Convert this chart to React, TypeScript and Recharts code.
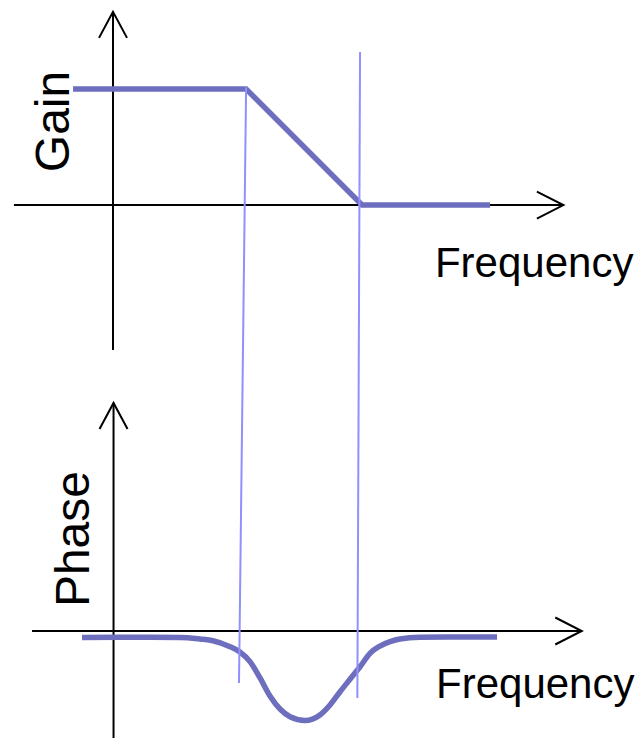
import React from 'react';
import { ComposedChart, Line, XAxis, YAxis, ReferenceLine, ReferenceDot } from 'recharts';

// Frequency axis in decade-like units (0 = origin, corner ≈ 1)
const gainFreq = [-0.298, 0.993, 1.858, 2.813];
const gainDb = [20, 20, 0, 0];

const phaseFreq = [-0.231, 0.276, 0.5, 0.649, 0.746, 0.873, 0.947, 1.022, 1.097, 1.171, 1.246, 1.321, 1.432, 1.544, 1.619, 1.694, 1.768, 1.843, 1.917, 1.992, 2.067, 2.141, 2.29, 2.589, 2.865];
const phaseDeg = [-6.5, -6.4, -6.5, -8.1, -9.8, -15.9, -21.2, -31.0, -47.5, -65.7, -78.9, -86.7, -90.5, -84.9, -74.8, -61.4, -48.8, -36.1, -22.6, -15.2, -10.8, -8.1, -6.4, -6.1, -6.1];

// Corner-frequency guide lines (top point on gain scale, bottom point on gain scale)
const guideTopFreq = [0.993, 1.843];
const guideTopGain = [20.3, 26.4];
const guideBottomFreq = [0.94, 1.823];
const guideBottomGain = [-82.4, -85.0];

// Axis extents
const freqDomain = [-0.843, 3.939];
const gainDomain = [-91.9, 35.35];
const phaseDomain = [-108.2, 638.1];
const gainAxisFreqRange = [-0.739, 3.36];
const gainAxisGainRange = [-25, 33.3];
const phaseAxisFreqRange = [-0.604, 3.497];
const phaseAxisPhaseRange = [-108.2, 230.6];

const labels = {
  gain: 'Gain',
  phase: 'Phase',
  freq: 'Frequency',
};

const gainData = gainFreq.map((f, i) => ({ f, v: gainDb[i] }));
const phaseData = phaseFreq.map((f, i) => ({ f, v: phaseDeg[i] }));

const LINE = '#6E6EBE';
const GUIDE = '#9090FF';
const FONT = '"Liberation Sans", Arial, sans-serif';

const arrowShape = (dir: 'up' | 'right') => (p: any) => {
  const { cx, cy } = p;
  const pts =
    dir === 'up'
      ? `${cx - 14},${cy + 26} ${cx},${cy} ${cx + 14},${cy + 26}`
      : `${cx - 26.5},${cy - 13.5} ${cx},${cy} ${cx - 26.5},${cy + 13.5}`;
  return <polyline points={pts} fill="none" stroke="#000" strokeWidth={2} />;
};

const textShape = (text: string, rotate: boolean, size: number) => (p: any) => {
  const { cx, cy } = p;
  return (
    <text
      x={cx}
      y={cy}
      fontFamily={FONT}
      fontSize={size}
      fill="#000"
      textAnchor={rotate ? 'middle' : 'start'}
      transform={rotate ? `rotate(-90 ${cx} ${cy})` : undefined}
    >
      {text}
    </text>
  );
};

export default function App() {
  return (
    <div style={{ position: 'absolute', left: 0, top: 0, width: 641, height: 738, background: '#fff' }}>
      <ComposedChart width={641} height={738} margin={{ top: 0, right: 0, bottom: 0, left: 0 }}>
        <XAxis xAxisId="f" type="number" dataKey="f" domain={freqDomain} allowDataOverflow hide />
        <YAxis yAxisId="gain" type="number" domain={gainDomain} allowDataOverflow hide />
        <YAxis yAxisId="phase" type="number" domain={phaseDomain} allowDataOverflow hide />

        {/* Gain axes */}
        <ReferenceLine xAxisId="f" yAxisId="gain" ifOverflow="visible" stroke="#000" strokeWidth={2}
          segment={[{ x: 0, y: gainAxisGainRange[0] }, { x: 0, y: gainAxisGainRange[1] }]} />
        <ReferenceLine xAxisId="f" yAxisId="gain" ifOverflow="visible" stroke="#000" strokeWidth={2}
          segment={[{ x: gainAxisFreqRange[0], y: 0 }, { x: gainAxisFreqRange[1], y: 0 }]} />
        <ReferenceDot xAxisId="f" yAxisId="gain" x={0} y={gainAxisGainRange[1]} r={0} shape={arrowShape('up')} />
        <ReferenceDot xAxisId="f" yAxisId="gain" x={gainAxisFreqRange[1]} y={0} r={0} shape={arrowShape('right')} />

        {/* Phase axes */}
        <ReferenceLine xAxisId="f" yAxisId="phase" ifOverflow="visible" stroke="#000" strokeWidth={2}
          segment={[{ x: 0.004, y: phaseAxisPhaseRange[0] }, { x: 0.004, y: phaseAxisPhaseRange[1] }]} />
        <ReferenceLine xAxisId="f" yAxisId="phase" ifOverflow="visible" stroke="#000" strokeWidth={2}
          segment={[{ x: phaseAxisFreqRange[0], y: 0 }, { x: phaseAxisFreqRange[1], y: 0 }]} />
        <ReferenceDot xAxisId="f" yAxisId="phase" x={0.004} y={phaseAxisPhaseRange[1]} r={0} shape={arrowShape('up')} />
        <ReferenceDot xAxisId="f" yAxisId="phase" x={phaseAxisFreqRange[1]} y={0} r={0} shape={arrowShape('right')} />

        {/* Labels */}
        <ReferenceDot xAxisId="f" yAxisId="gain" x={-0.328} y={14.4} r={0} shape={textShape(labels.gain, true, 48)} />
        <ReferenceDot xAxisId="f" yAxisId="phase" x={-0.179} y={93} r={0} shape={textShape(labels.phase, true, 48)} />
        <ReferenceDot xAxisId="f" yAxisId="gain" x={2.402} y={-12.41} r={0} shape={textShape(labels.freq, false, 42)} />
        <ReferenceDot xAxisId="f" yAxisId="phase" x={2.41} y={-67.75} r={0} shape={textShape(labels.freq, false, 42)} />

        <Line xAxisId="f" yAxisId="gain" data={gainData} dataKey="v" type="linear" stroke={LINE} strokeWidth={5.5}
          dot={false} activeDot={false} isAnimationActive={false} strokeLinejoin="miter" strokeLinecap="butt" />
        <Line xAxisId="f" yAxisId="phase" data={phaseData} dataKey="v" type="monotone" stroke={LINE} strokeWidth={5.5}
          dot={false} activeDot={false} isAnimationActive={false} strokeLinecap="butt" />

        {/* Corner-frequency guides */}
        {guideTopFreq.map((f, i) => (
          <ReferenceLine key={i} xAxisId="f" yAxisId="gain" ifOverflow="visible" stroke={GUIDE} strokeWidth={2}
            segment={[{ x: f, y: guideTopGain[i] }, { x: guideBottomFreq[i], y: guideBottomGain[i] }]} />
        ))}
      </ComposedChart>
    </div>
  );
}
